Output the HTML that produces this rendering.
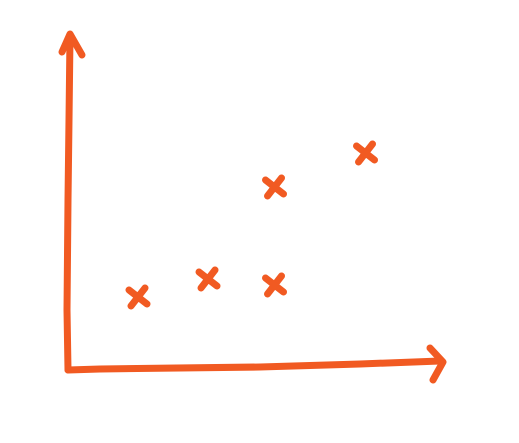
<!DOCTYPE html>
<html>
<head>
<meta charset="utf-8">
<style>
  html, body { margin: 0; padding: 0; background: #ffffff; }
  svg { display: block; }
</style>
</head>
<body>
<svg id="chart" width="519" height="443" viewBox="0 0 519 443">
  <g id="axes" fill="none" stroke="#F15A22" stroke-width="7" stroke-linecap="round" stroke-linejoin="round">
    <path d="M68,370 L67,310 L68,200 L69,120 L70,36"/>
    <path d="M62,52 L70,34 L82,55"/>
    <path d="M68,370 L100,369 L260,367 L360,364 L440,361"/>
    <path d="M430,348 L443,362 L433,380"/>
  </g>
  <g id="points"></g>
</svg>
<script>
const xValues = [2, 4, 5.9, 5.9, 8.5];
const yValues = [7.3, 9.1, 8.5, 18.3, 21.7];

const originX = 68, originY = 370;
function xScale(v) { return originX + v * 35; }
function yScale(v) { return originY - v * 10; }

const g = document.getElementById('points');
const NS = 'http://www.w3.org/2000/svg';
for (let i = 0; i < xValues.length; i++) {
  const cx = xScale(xValues[i]);
  const cy = yScale(yValues[i]);
  const p = document.createElementNS(NS, 'path');
  const a = 9;
  p.setAttribute('d', `M${cx - a},${cy - a + 2} L${cx + a},${cy + a - 2} M${cx + a - 2},${cy - a} L${cx - a + 2},${cy + a}`);
  p.setAttribute('fill', 'none');
  p.setAttribute('stroke', '#F15A22');
  p.setAttribute('stroke-width', '7');
  p.setAttribute('stroke-linecap', 'round');
  
  
  g.appendChild(p);
}
</script>
</body>
</html>
